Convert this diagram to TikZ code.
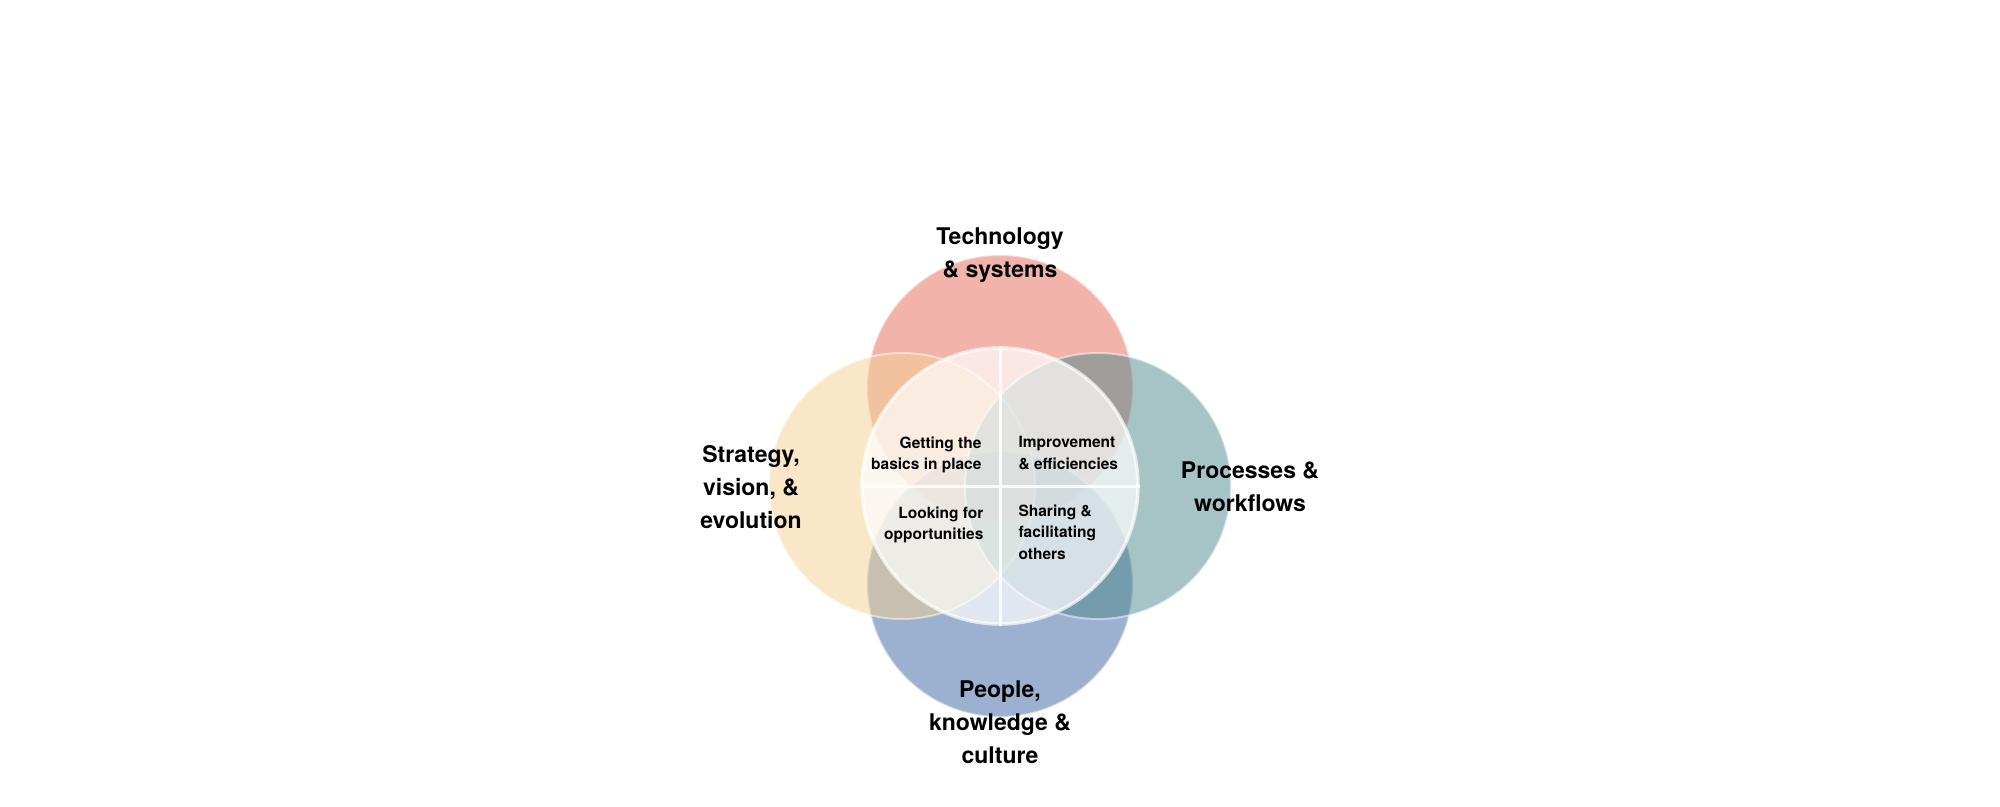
\documentclass[tikz,border=0pt]{standalone}
\usepackage{fontspec}
\setmainfont{TeX Gyre Heros}
\usetikzlibrary{positioning}

\definecolor{techred}{HTML}{E56755}
\definecolor{stratyellow}{HTML}{F3CF91}
\definecolor{procteal}{HTML}{4D898B}
\definecolor{peopleblue}{HTML}{3963A1}

\begin{document}
\begin{tikzpicture}
			[
				x=1pt,
				y=-1pt,
				petal/.style={circle,minimum size=266pt,inner sep=0pt,fill opacity=0.5,draw=white,draw opacity=0.5,line width=2pt},
				hub/.style={circle,minimum size=276pt,inner sep=0pt,fill=white,fill opacity=0.7,draw=white,draw opacity=0.7,line width=3.5pt},
				title/.style={align=center,font=\bfseries\fontsize{23}{33}\selectfont},
				quarter/.style={font=\bfseries\fontsize{15.5}{21.5}\selectfont},
				divider/.style={white,line width=3pt,opacity=0.9}
			]

			\useasboundingbox (0,0) rectangle (2000,806);

			% circles
			\node[petal,fill=techred] (tech) at ( 1000, 388 ) {};
			\node[petal,fill=peopleblue] (people) at ( 1000, 584 ) {};
			\node[petal,fill=stratyellow] (strat) at ( 902, 486 ) {};
			\node[petal,fill=procteal] (proc) at ( 1098, 486 ) {};
			\node[hub] (hub) at ( 1000, 486 ) {};

			% dividers
			\draw[divider] (hub.north) -- (hub.south);
			\draw[divider] (hub.west) -- (hub.east);

			% circle labels
			\node[title] (techlabel) at ( 1000, 255 ) {Technology\\\& systems};
			\node[title] (stratlabel) at ( 751, 487 ) {Strategy,\\vision, \&\\evolution};
			\node[title] (proclabel) at ( 1250, 487 ) {Processes \&\\workflows};
			\node[title] (peoplelabel) at ( 1000, 722 ) {People,\\knowledge \&\\culture};

			% quarter labels
			\node[quarter,align=right,anchor=east] (basics) at ( 985, 455 ) {Getting the\\basics in place};
			\node[quarter,align=right,anchor=east] (looking) at ( 987, 525 ) {Looking for\\opportunities};
			\node[quarter,align=left,anchor=west] (improve) at ( 1015, 453 ) {Improvement\\\& efficiencies};
			\node[quarter,align=left,anchor=west] (sharing) at ( 1015, 532 ) {Sharing \&\\facilitating\\others};

		\end{tikzpicture}
\end{document}
